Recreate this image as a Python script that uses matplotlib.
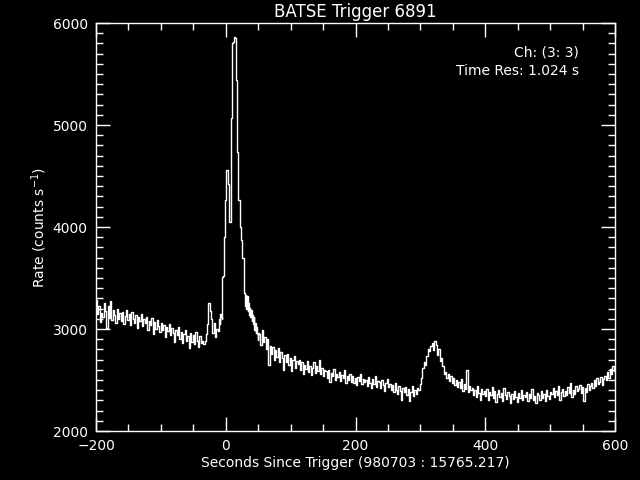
import numpy as np
import matplotlib
matplotlib.use("Agg")
import matplotlib.pyplot as plt
from matplotlib.ticker import MultipleLocator

# ---- data ----
# Segment A: 2.048 s bins starting at -200.704 s
pre_start = -200.704
pre_dt = 2.048
pre_rate = [
    3280, 3150, 3230, 3070, 3160, 3120, 3260, 3180, 3010, 3230,
    3110, 3270, 3090, 3190, 3140, 3060, 3200, 3100, 3160, 3080,
    3170, 3050, 3130, 3190, 3090, 3150, 3040, 3170, 3100, 3060,
    3140, 3010, 3120, 3080, 3150, 3030, 3100, 3060, 3120, 2990,
    3080, 3040, 3110, 2950, 3070, 3000, 3090, 3030, 2970, 3060,
    2990, 3040, 2920, 3020, 2980, 3050, 2940, 3010, 2960, 2870,
    2990, 2940, 3020, 2900, 2970, 2860, 2950, 2990, 2880, 2930,
    2810, 2960, 2870, 2940, 2850, 2970, 2880, 2820, 2930, 2860,
    2880, 2850, 2880, 2950, 3050, 3260, 3180, 3100, 2960, 3060,
    2920, 3000, 2980,
]
# Segment B: 1.024 s bins (burst)
burst_dt = 1.024
burst_rate = [
    3100, 3050, 3150, 3120, 3100, 3510, 3520, 3890, 3900, 4265,
    4510, 4560, 4560, 4420, 4420, 4050, 4050, 4050, 5070, 5070,
    5800, 5810, 5850, 5860, 5850, 5440, 5440, 4735, 4735, 4265,
    4265, 4080, 4000, 3870, 3870, 3700, 3700, 3380, 3350, 3230,
    3330, 3200, 3320, 3180, 3260, 3140, 3210, 3120, 3190, 3080,
    3140, 3050, 3120, 2990, 3060, 2960, 3020, 2950, 2890, 2960,
]
# Segment C: 2.048 s bins after the burst
post_dt = 2.048
post_rate = [
    2950, 2840, 2990, 2870, 2920, 2800, 2900, 2650, 2830, 2760,
    2820, 2700, 2790, 2730, 2810, 2680, 2770, 2720, 2600, 2750,
    2680, 2760, 2650, 2720, 2590, 2700, 2740, 2620, 2690, 2660,
    2700, 2600, 2680, 2560, 2650, 2610, 2690, 2580, 2640, 2550,
    2620, 2680, 2570, 2640, 2590, 2700, 2560, 2620, 2540, 2600,
    2590, 2520, 2600, 2480, 2570, 2540, 2610, 2500, 2560, 2530,
    2580, 2490, 2550, 2520, 2600, 2470, 2540, 2500, 2560, 2480,
    2540, 2470, 2520, 2450, 2530, 2490, 2560, 2460, 2510, 2480,
    2500, 2440, 2530, 2470, 2420, 2510, 2460, 2540, 2430, 2490,
    2480, 2420, 2500, 2450, 2390, 2470, 2510, 2430, 2460, 2400,
    2450, 2380, 2470, 2400, 2360, 2440, 2390, 2300, 2420, 2380,
    2430, 2350, 2410, 2290, 2380, 2440, 2340, 2400, 2360, 2420,
    2400, 2460, 2520, 2620, 2680, 2650, 2740, 2800, 2780, 2830,
    2860, 2790, 2880, 2840, 2750, 2800, 2690, 2720, 2640, 2560,
    2580, 2520, 2560, 2490, 2540, 2470, 2520, 2450, 2500, 2430,
    2480, 2420, 2510, 2390, 2460, 2410, 2600, 2380, 2440, 2400,
    2420, 2350, 2400, 2330, 2440, 2370, 2300, 2410, 2360, 2390,
    2340, 2410, 2300, 2380, 2350, 2430, 2320, 2390, 2280, 2360,
    2400, 2330, 2370, 2290, 2420, 2350, 2310, 2380, 2340, 2270,
    2360, 2310, 2390, 2330, 2280, 2370, 2320, 2400, 2300, 2350,
    2330, 2380, 2290, 2360, 2320, 2410, 2300, 2340, 2270, 2370,
    2350, 2300, 2390, 2320, 2360, 2290, 2400, 2340, 2310, 2380,
    2360, 2420, 2330, 2390, 2350, 2440, 2300, 2380, 2410, 2340,
    2390, 2350, 2430, 2370, 2470, 2330, 2400, 2360, 2440, 2390,
    2410, 2450, 2370, 2430, 2290, 2420, 2380, 2460, 2400, 2440,
    2470, 2420, 2500, 2440, 2520, 2460, 2480, 2530, 2450, 2510,
    2540, 2500, 2580, 2520, 2610, 2560, 2640, 2590, 2620, 2600,
]

title = "BATSE Trigger 6891"
xlabel = "Seconds Since Trigger (980703 : 15765.217)"
ylabel = "Rate (counts s$^{-1}$)"
ann1 = "Ch: (3: 3)"
ann2 = "Time Res: 1.024 s"

# ---- build time axis ----
tA = pre_start + pre_dt * np.arange(len(pre_rate))
tB0 = tA[-1] + pre_dt
tB = tB0 + burst_dt * np.arange(len(burst_rate))
tC0 = tB[-1] + burst_dt
tC = tC0 + post_dt * np.arange(len(post_rate))
t = np.concatenate([tA, tB, tC, [tC[-1] + post_dt]])
r = np.concatenate([pre_rate, burst_rate, post_rate, [post_rate[-1]]])

plt.rcParams['font.family'] = ['DejaVu Sans']
fig = plt.figure(figsize=(6.4, 4.8), dpi=100, facecolor='black')
ax = fig.add_axes([0.15, 0.102, 0.811, 0.850], facecolor='black')
ax.step(t, r, where='post', color='white', lw=1.0)
ax.set_xlim(-200, 600)
ax.set_ylim(2000, 6000)

for s in ax.spines.values():
    s.set_color('white')
    s.set_linewidth(1.0)
ax.xaxis.set_major_locator(MultipleLocator(200))
ax.xaxis.set_minor_locator(MultipleLocator(50))
ax.yaxis.set_major_locator(MultipleLocator(1000))
ax.yaxis.set_minor_locator(MultipleLocator(100))
ax.tick_params(which='both', direction='in', colors='white', top=True, right=True,
               labelsize=10, width=1.0)
ax.tick_params(which='major', length=10, pad=6)
ax.tick_params(which='minor', length=5)
for lab in ax.get_xticklabels() + ax.get_yticklabels():
    lab.set_color('white')

ax.set_xlabel(xlabel, color='white', fontsize=10, labelpad=2)
ax.set_ylabel(ylabel, color='white', fontsize=10, labelpad=0)
ax.yaxis.set_label_coords(-0.09, 0.5)
ax.set_title(title, color='white', fontsize=12, pad=4)
ax.text(0.931, 0.929, ann1, transform=ax.transAxes, color='white', fontsize=10,
        ha='right', va='center')
ax.text(0.931, 0.882, ann2, transform=ax.transAxes, color='white', fontsize=10,
        ha='right', va='center')

fig.savefig('out.png', dpi=100, facecolor='black')
